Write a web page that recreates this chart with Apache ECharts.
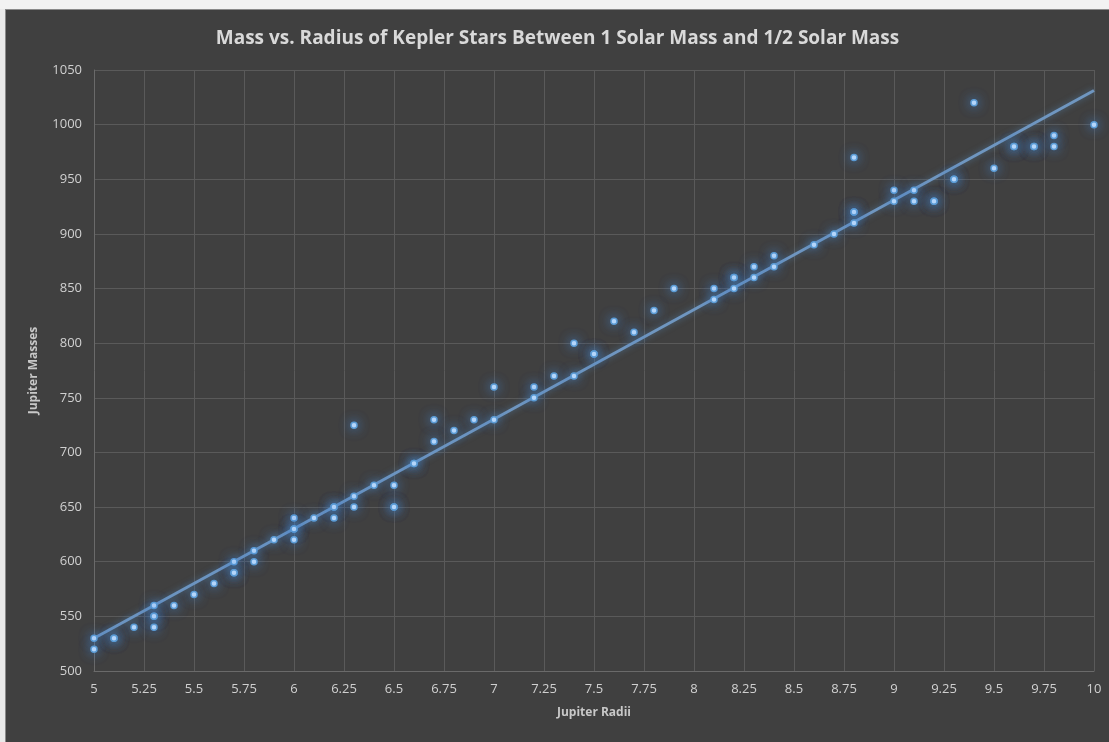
<!DOCTYPE html>
<html>
<head>
<meta charset="utf-8">
<script src="https://cdn.jsdelivr.net/npm/echarts@6/dist/echarts.min.js"></script>
<style>
  html, body { margin: 0; padding: 0; background: #e9e9e9; }
  #strip { position: absolute; left: 0; top: 0; width: 1109px; height: 9px; background: #f2f2f2; }
  #chart { position: absolute; left: 5px; top: 9px; width: 1104px; height: 733px; background: #404040; border-left: 1px solid #8a8a8a; border-top: 1px solid #8a8a8a; box-sizing: border-box; }
</style>
</head>
<body>
<div id="strip"></div>
<div id="chart"></div>
<script>
// Jupiter radii (x) and Jupiter masses (y)
const radii = [
  5, 5, 5.1, 5.1, 5.2, 5.3, 5.3, 5.3, 5.3, 5.4, 5.5, 5.6,
  5.7, 5.7, 5.7, 5.8, 5.8, 5.9, 6, 6, 6, 6, 6.1,
  6.2, 6.2, 6.2, 6.3, 6.3, 6.3, 6.4, 6.5, 6.5, 6.5, 6.6, 6.6,
  6.7, 6.7, 6.8, 6.9, 7, 7, 7.2, 7.2, 7.3, 7.4, 7.4, 7.5, 7.5,
  7.6, 7.7, 7.8, 7.9, 8.1, 8.1, 8.2, 8.2, 8.2, 8.3, 8.3, 8.4, 8.4,
  8.6, 8.7, 8.8, 8.8, 8.8, 8.8, 9, 9, 9.1, 9.1, 9.2, 9.2,
  9.3, 9.3, 9.4, 9.5, 9.6, 9.6, 9.7, 9.7, 9.8, 9.8, 10
];
const masses = [
  530, 520, 530, 530, 540, 560, 550, 550, 540, 560, 570, 580,
  600, 590, 590, 610, 600, 620, 640, 630, 630, 620, 640,
  650, 650, 640, 660, 650, 725, 670, 670, 650, 650, 690, 690,
  730, 710, 720, 730, 760, 730, 760, 750, 770, 800, 770, 790, 790,
  820, 810, 830, 850, 850, 840, 860, 860, 850, 870, 860, 880, 870,
  890, 900, 970, 920, 920, 910, 940, 930, 940, 930, 930, 930,
  950, 950, 1020, 960, 980, 980, 980, 980, 990, 980, 1000
];
const title = 'Mass vs. Radius of Kepler Stars Between 1 Solar Mass and 1/2 Solar Mass';
const xName = 'Jupiter Radii';
const yName = 'Jupiter Masses';

const points = radii.map((r, i) => [r, masses[i]]);

// linear least-squares trendline from the data
const n = radii.length;
const mx = radii.reduce((a, b) => a + b, 0) / n;
const my = masses.reduce((a, b) => a + b, 0) / n;
let sxy = 0, sxx = 0;
for (let i = 0; i < n; i++) { sxy += (radii[i] - mx) * (masses[i] - my); sxx += (radii[i] - mx) ** 2; }
const slope = sxy / sxx;
const icpt = my - slope * mx;
const trend = [[5, icpt + slope * 5], [10, icpt + slope * 10]];

const chart = echarts.init(document.getElementById('chart'));
const labelColor = '#d0d0d0';
const font = '"Open Sans", sans-serif';
chart.setOption({
  backgroundColor: '#404040',
  animation: false,
  title: {
    text: title, left: 'center', top: 14,
    textStyle: { color: '#d9d9d9', fontSize: 19, fontWeight: 'bold', fontFamily: font }
  },
  grid: { left: 88, right: 15, top: 60, bottom: 71 },
  xAxis: {
    type: 'value', min: 5, max: 10, interval: 0.25,
    name: xName, nameLocation: 'middle', nameGap: 36,
    nameTextStyle: { color: '#c8c8c8', fontSize: 12, fontWeight: 'bold', fontFamily: font },
    axisLine: { show: true, lineStyle: { color: '#6a6a6a', width: 1 } },
    axisTick: { show: false },
    axisLabel: { color: labelColor, fontSize: 13, fontFamily: font, margin: 12, formatter: v => String(v) },
    splitLine: { show: true, lineStyle: { color: '#5a5a5a', width: 1 } }
  },
  yAxis: {
    type: 'value', min: 500, max: 1050, interval: 50,
    name: yName, nameLocation: 'middle', nameGap: 54,
    nameTextStyle: { color: '#c8c8c8', fontSize: 12, fontWeight: 'bold', fontFamily: font },
    axisLine: { show: true, lineStyle: { color: '#6a6a6a', width: 1 } },
    axisTick: { show: false },
    axisLabel: { color: labelColor, fontSize: 13, fontFamily: font, margin: 12, formatter: v => String(v) },
    splitLine: { show: true, lineStyle: { color: '#5a5a5a', width: 1 } }
  },
  series: [
    {
      type: 'line', data: trend, symbol: 'none', silent: true, z: 1,
      lineStyle: { color: '#6f96c0', width: 3, shadowBlur: 6, shadowColor: 'rgba(91,155,213,0.5)' }
    },
    {
      type: 'scatter', data: points, symbolSize: 6, z: 2,
      itemStyle: {
        color: '#c4e0ff', borderColor: '#5b9bd5', borderWidth: 1.5,
        shadowBlur: 12, shadowColor: 'rgba(70,140,220,0.9)', opacity: 1
      }
    }
  ]
});
</script>
</body>
</html>
